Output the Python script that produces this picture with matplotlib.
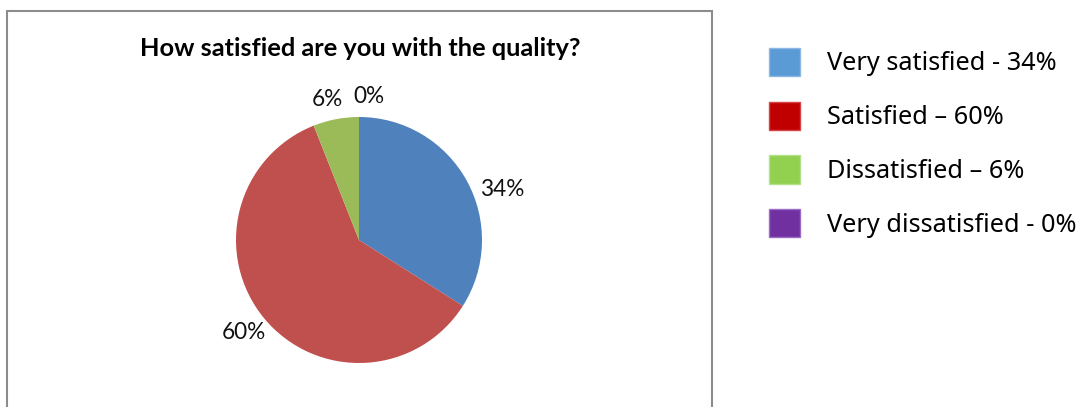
import matplotlib
matplotlib.use("Agg")
import matplotlib.pyplot as plt
from matplotlib.patches import Patch, Rectangle
import numpy as np

# Survey answers
categories = ["Very satisfied", "Satisfied", "Dissatisfied", "Very dissatisfied"]
shares = [34, 60, 6, 0]
legend_labels = ["Very satisfied - 34%", "Satisfied \u2013 60%",
                 "Dissatisfied \u2013 6%", "Very dissatisfied - 0%"]
title = "How satisfied are you with the quality?"

pie_colors = ["#4F81BD", "#C0504D", "#9BBB59", "#8064A2"]
legend_colors = ["#5B9BD5", "#C00000", "#92D050", "#7030A0"]
legend_edges = ["#8DB8E3", "#D64545", "#B5E08A", "#9A6CC4"]

# label placement: radial distance (in radii) and small angular nudge (deg)
label_dist = [1.23, 1.20, 1.17, 1.17]
label_nudge = [-9.5, -1.0, 2.0, -4.0]

W, H = 1083, 407
fig = plt.figure(figsize=(W / 100, H / 100), dpi=100)
ax = fig.add_axes([0, 0, 1, 1])

cx, cy, r = 359, H - 240, 123
wedges, _ = ax.pie(shares, colors=pie_colors, startangle=90, counterclock=False,
                   center=(cx, cy), radius=r,
                   wedgeprops=dict(linewidth=0))

for w, val, d, nud in zip(wedges, shares, label_dist, label_nudge):
    mid = np.deg2rad((w.theta1 + w.theta2) / 2 + nud)
    ax.text(cx + d * r * np.cos(mid), cy + d * r * np.sin(mid), f"{val}%",
            ha="center", va="center", fontsize=16.3, family="Lato", color="#111111")

ax.set_xlim(0, W)
ax.set_ylim(0, H)
ax.set_aspect("auto")
ax.axis("off")

# chart frame
ax.add_patch(Rectangle((7, -20), 705, H - 11 + 20, fill=False,
                       edgecolor="#8C8C8C", linewidth=1.5, clip_on=False))

ax.text(360, H - 56, title, ha="center", va="baseline", fontsize=18.3,
        fontweight="bold", family="Lato", color="#000000")

handles = [Patch(facecolor=c, edgecolor=e, linewidth=1.0)
           for c, e in zip(legend_colors, legend_edges)]
fs = 18.2
leg = ax.legend(handles, legend_labels, loc="upper left",
                bbox_to_anchor=(769 / W, (H - 48) / H),
                frameon=False, borderpad=0, borderaxespad=0,
                handlelength=1.23, handleheight=1.33,
                handletextpad=1.05, labelspacing=1.0,
                prop=dict(family="Noto Sans", size=fs))

fig.savefig("out.png", dpi=100)
